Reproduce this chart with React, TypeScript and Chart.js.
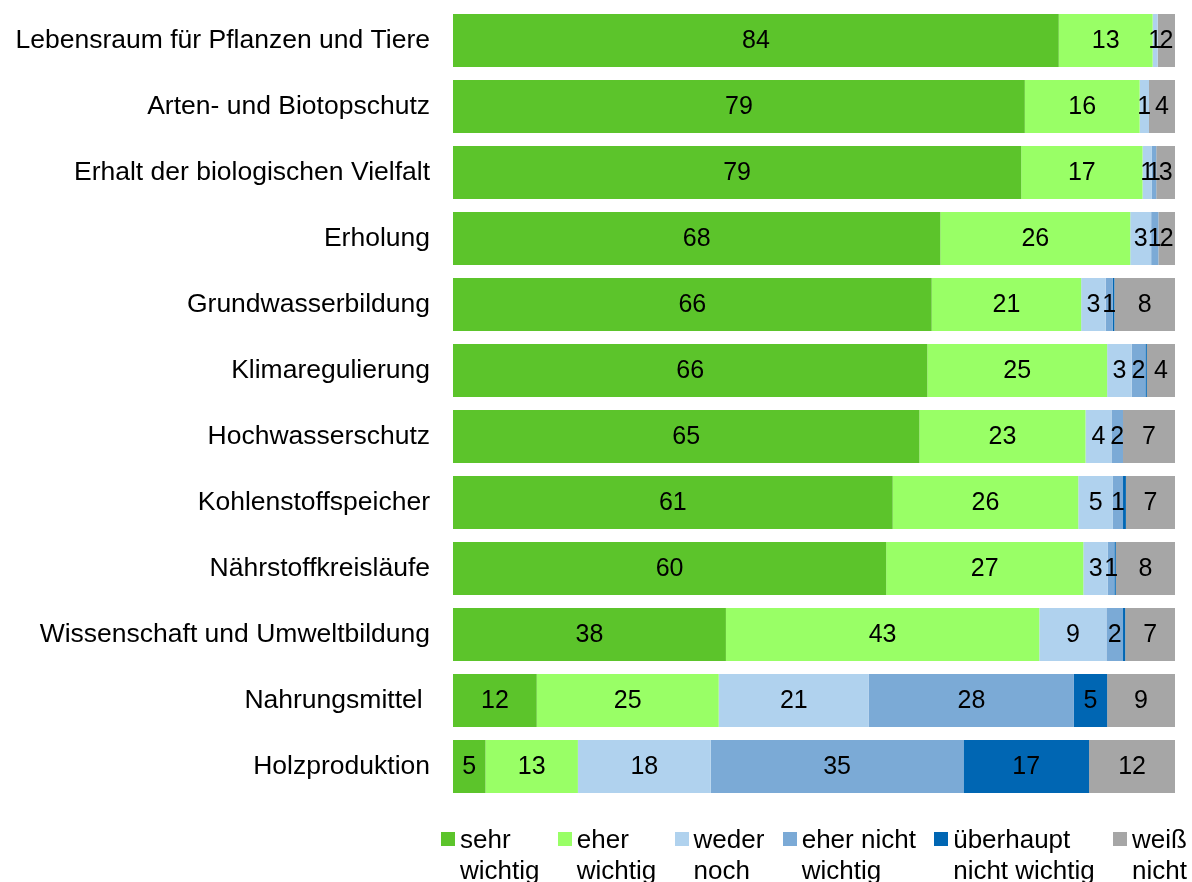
import React, { useEffect, useRef } from "react";
import { Chart, registerables } from "chart.js";

Chart.register(...registerables);

const categories = [
  "Lebensraum für Pflanzen und Tiere",
  "Arten- und Biotopschutz",
  "Erhalt der biologischen Vielfalt",
  "Erholung",
  "Grundwasserbildung",
  "Klimaregulierung",
  "Hochwasserschutz",
  "Kohlenstoffspeicher",
  "Nährstoffkreisläufe",
  "Wissenschaft und Umweltbildung",
  "Nahrungsmittel ",
  "Holzproduktion",
];

const sehrWichtig = [83.9, 79.2, 78.7, 67.5, 66.3, 65.7, 64.6, 60.9, 60.0, 37.8, 11.6, 4.5];
const eherWichtig = [13.0, 15.9, 16.8, 26.3, 20.7, 24.9, 23.0, 25.7, 27.3, 43.4, 25.2, 12.8];
const wederNoch = [0.7, 1.3, 1.3, 2.9, 3.4, 3.4, 3.6, 4.8, 3.4, 9.3, 20.8, 18.4];
const eherNichtWichtig = [0, 0, 0.6, 1.0, 1.0, 1.9, 1.6, 1.4, 0.9, 2.3, 28.4, 35.0];
const ueberhauptNichtWichtig = [0, 0, 0, 0, 0.2, 0.2, 0, 0.4, 0.2, 0.3, 4.6, 17.4];
const weissNicht = [2.4, 3.6, 2.6, 2.3, 8.4, 3.9, 7.2, 6.8, 8.2, 6.9, 9.4, 11.9];

const seriesNames = [
  "sehr\nwichtig",
  "eher\nwichtig",
  "weder\nnoch",
  "eher nicht\nwichtig",
  "überhaupt\nnicht wichtig",
  "weiß\nnicht",
];
const seriesColors = ["#5CC42B", "#99FF66", "#B0D2EE", "#7BAAD6", "#0066B3", "#A6A6A6"];
const seriesValues = [
  sehrWichtig,
  eherWichtig,
  wederNoch,
  eherNichtWichtig,
  ueberhauptNichtWichtig,
  weissNicht,
];

const FONT = "'Liberation Sans', Arial, sans-serif";

const valueLabels = {
  id: "valueLabels",
  afterDatasetsDraw(chart: any) {
    const ctx = chart.ctx;
    ctx.save();
    ctx.font = `25px ${FONT}`;
    ctx.fillStyle = "#000";
    ctx.textAlign = "center";
    ctx.textBaseline = "middle";
    chart.data.datasets.forEach((ds: any, di: number) => {
      const meta = chart.getDatasetMeta(di);
      meta.data.forEach((el: any, i: number) => {
        const v = ds.data[i];
        if (v == null || v < 0.5) return;
        const cx = (el.x + el.base) / 2;
        ctx.fillText(String(Math.round(v)), cx, el.y + 0.5);
      });
    });
    ctx.restore();
  },
};

export default function App() {
  const ref = useRef<HTMLCanvasElement>(null);

  useEffect(() => {
    if (!ref.current) return;
    const chart = new Chart(ref.current, {
      type: "bar",
      data: {
        labels: categories,
        datasets: seriesValues.map((vals, i) => ({
          label: seriesNames[i],
          data: vals,
          backgroundColor: seriesColors[i],
          borderWidth: 0,
          barPercentage: 1,
          categoryPercentage: 0.8,
        })),
      },
      options: {
        indexAxis: "y",
        animation: false,
        responsive: false,
        devicePixelRatio: 1,
        layout: { padding: { left: 0, right: 17, top: 7.5, bottom: 82.5 } },
        plugins: {
          legend: { display: false },
          tooltip: { enabled: false },
        },
        scales: {
          x: {
            stacked: true,
            min: 0,
            max: 100,
            display: false,
          },
          y: {
            stacked: true,
            grid: { display: false, drawTicks: true, tickLength: 23 },
            border: { display: false },
            ticks: {
              color: "#000",
              padding: 0,
              font: { family: FONT, size: 26.5, lineHeight: 0.4 },
            },
            afterFit: (scale: any) => {
              scale.width = 453;
            },
          },
        },
      },
      plugins: [valueLabels],
    });
    return () => chart.destroy();
  }, []);

  return (
    <div
      style={{
        position: "fixed",
        left: 0,
        top: 0,
        width: 1192,
        height: 882,
        overflow: "hidden",
        background: "#fff",
      }}
    >
      <canvas ref={ref} width={1192} height={882} style={{ display: "block" }} />
      <div
        style={{
          position: "absolute",
          left: 441,
          top: 823.5,
          display: "flex",
          flexDirection: "row",
          gap: 18.3,
          whiteSpace: "nowrap",
          fontFamily: FONT,
          fontSize: 26,
          lineHeight: "31px",
          color: "#000",
          width: 1000,
        }}
      >
        {seriesNames.map((name, i) => (
          <div key={i} style={{ display: "flex", flexDirection: "row", alignItems: "flex-start" }}>
            <div
              style={{
                width: 14,
                height: 14,
                marginTop: 8.5,
                marginRight: 5,
                background: seriesColors[i],
                flex: "none",
              }}
            />
            <div style={{ whiteSpace: "pre" }}>{name}</div>
          </div>
        ))}
      </div>
    </div>
  );
}
